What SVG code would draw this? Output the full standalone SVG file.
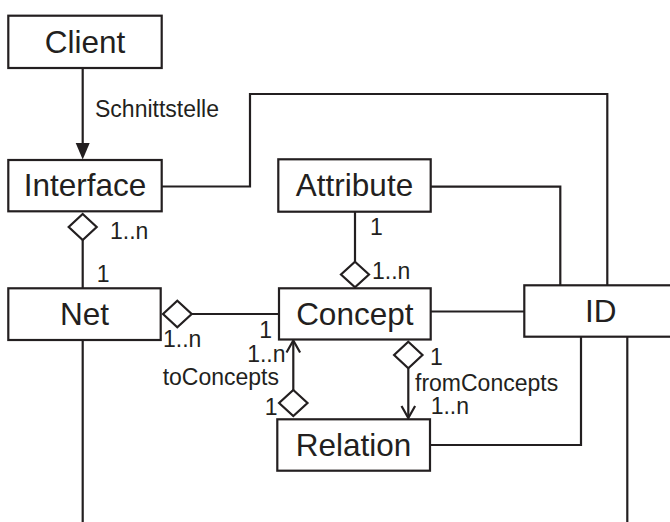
<svg xmlns="http://www.w3.org/2000/svg" width="670" height="522" viewBox="0 0 670 522">
  <style>
    .box { fill: #fff; stroke: #231f20; stroke-width: 2.2; }
    .name { font-family: "Liberation Sans", Arial, sans-serif; font-size: 31.5px; fill: #231f20; text-anchor: middle; }
    .lbl { font-family: "Liberation Sans", Arial, sans-serif; font-size: 23px; fill: #231f20; }
    .end { text-anchor: end; }
    .wire { fill: none; stroke: #231f20; stroke-width: 2.2; }
    .dia { fill: #fff; stroke: #231f20; stroke-width: 2.2; stroke-linejoin: miter; }
    .open { fill: none; stroke: #231f20; stroke-width: 2.2; }
  </style>
  <rect width="670" height="522" fill="#fff"/>

  <!-- connectors -->
  <g id="connectors">
    <!-- Client -> Interface -->
    <line class="wire" x1="82.7" y1="68" x2="82.7" y2="145"/>
    <polygon points="75.7,143 89.7,143 82.7,159.5" fill="#231f20"/>
    <text class="lbl" x="95" y="116.7">Schnittstelle</text>

    <!-- Interface -> ID -->
    <polyline class="wire" points="161.7,186.5 250,186.5 250,94 607.3,94 607.3,285.3"/>
    <!-- Attribute -> ID -->
    <polyline class="wire" points="430.7,186.7 560.3,186.7 560.3,285.3"/>
    <!-- Concept -> ID -->
    <line class="wire" x1="430.7" y1="311.5" x2="524.3" y2="311.5"/>
    <!-- Relation -> ID -->
    <polyline class="wire" points="430,445 581,445 581,336.7"/>
    <!-- lines leaving the picture -->
    <line class="wire" x1="82.7" y1="340" x2="82.7" y2="522"/>
    <line class="wire" x1="627.3" y1="336.7" x2="627.3" y2="522"/>

    <!-- Interface <>- Net -->
    <line class="wire" x1="82.7" y1="240" x2="82.7" y2="288.3"/>
    <polygon class="dia" points="82.7,214 96.7,227 82.7,240 68.7,227"/>
    <text class="lbl" x="110" y="238.5">1..n</text>
    <text class="lbl" x="96.7" y="281.7">1</text>

    <!-- Attribute -> Concept -->
    <line class="wire" x1="355" y1="211.7" x2="355" y2="261.7"/>
    <polygon class="dia" points="355,261.7 369,274.5 355,287.3 341,274.5"/>
    <text class="lbl" x="370" y="235">1</text>
    <text class="lbl" x="372" y="279">1..n</text>

    <!-- Net <>- Concept -->
    <line class="wire" x1="191.7" y1="314" x2="279" y2="314"/>
    <polygon class="dia" points="163,314 177.3,300.7 191.7,314 177.3,327.3"/>
    <text class="lbl" x="163" y="347">1..n</text>
    <text class="lbl end" x="272" y="338">1</text>

    <!-- toConcepts -->
    <line class="wire" x1="293.3" y1="341" x2="293.3" y2="390"/>
    <polyline class="open" points="286.5,352.5 293.3,340.5 300.1,352.5"/>
    <polygon class="dia" points="293.3,390 307.5,403 293.3,416 279.1,403"/>
    <text class="lbl end" x="285.5" y="361.7">1..n</text>
    <text class="lbl end" x="279" y="385">toConcepts</text>
    <text class="lbl end" x="277.5" y="415">1</text>

    <!-- fromConcepts -->
    <polygon class="dia" points="408.3,341.7 422.5,355 408.3,368.3 394.1,355"/>
    <line class="wire" x1="408.3" y1="368.3" x2="408.3" y2="417.5"/>
    <polyline class="open" points="401.5,406 408.3,418 415.1,406"/>
    <text class="lbl" x="430" y="365">1</text>
    <text class="lbl" x="415" y="390.5">fromConcepts</text>
    <text class="lbl" x="430.7" y="414">1..n</text>
  </g>

  <!-- nodes -->
  <g id="client">
    <rect class="box" x="8.3" y="15.7" width="153.4" height="52.3"/>
    <text class="name" x="85" y="53.3">Client</text>
  </g>
  <g id="interface">
    <rect class="box" x="8.3" y="160" width="153.4" height="51.3"/>
    <text class="name" x="85" y="196">Interface</text>
  </g>
  <g id="attribute">
    <rect class="box" x="278.3" y="159.3" width="152.4" height="52.4"/>
    <text class="name" x="354.5" y="196">Attribute</text>
  </g>
  <g id="net">
    <rect class="box" x="8.3" y="288.3" width="152.4" height="51.7"/>
    <text class="name" x="84.5" y="325">Net</text>
  </g>
  <g id="concept">
    <rect class="box" x="279" y="288.3" width="151.7" height="51.2"/>
    <text class="name" x="354.8" y="325">Concept</text>
  </g>
  <g id="id">
    <rect class="box" x="524.3" y="285.3" width="153" height="51.4"/>
    <text class="name" x="600.7" y="322">ID</text>
  </g>
  <g id="relation">
    <rect class="box" x="277.3" y="419.3" width="152.7" height="51.4"/>
    <text class="name" x="353.6" y="455.5">Relation</text>
  </g>
</svg>
